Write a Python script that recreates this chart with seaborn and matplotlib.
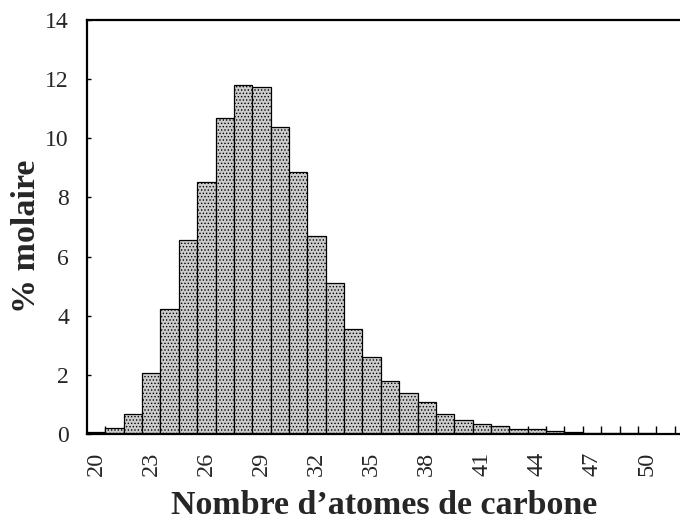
import matplotlib
matplotlib.use("Agg")
import matplotlib.pyplot as plt
from matplotlib.ticker import FixedLocator
import seaborn as sns
import pandas as pd

# Carbon number distribution (mol %)
carbon_numbers = list(range(20, 53))
mol_percent = [0.07, 0.20, 0.68, 2.07, 4.22, 6.56, 8.52, 10.69, 11.80, 11.73,
               10.39, 8.85, 6.70, 5.10, 3.55, 2.60, 1.80, 1.40, 1.07, 0.68,
               0.47, 0.33, 0.26, 0.16, 0.17, 0.09, 0.08, 0.04, 0.03, 0.02,
               0.02, 0.01, 0.01]
x_tick_labels = [20, 23, 26, 29, 32, 35, 38, 41, 44, 47, 50]
y_ticks = [0, 2, 4, 6, 8, 10, 12, 14]

df = pd.DataFrame({"carbone": carbon_numbers, "molaire": mol_percent})

sns.set_style("white")
plt.rcParams["font.family"] = ["Liberation Serif", "DejaVu Serif"]
plt.rcParams["hatch.color"] = "#6e6e6e"
plt.rcParams["hatch.linewidth"] = 0.6

fig = plt.figure(figsize=(6.8, 5.22), dpi=100)
# axes box runs slightly past the right edge of the figure
ax = fig.add_axes([87 / 680, (522 - 434) / 522, 606 / 680, 414 / 522])

sns.barplot(data=df, x="carbone", y="molaire", native_scale=True, width=1.0,
            color="#cccccc", edgecolor="black", linewidth=0.9,
            saturation=1, ax=ax, zorder=3)
for p in ax.patches:
    p.set_hatch(".....")

ax.set_xlim(19.5, 52.5)
ax.set_ylim(0, 14)

for side in ["left", "top", "bottom", "right"]:
    ax.spines[side].set_visible(True)
    ax.spines[side].set_color("black")
    ax.spines[side].set_linewidth(1.6)
    ax.spines[side].set_zorder(5)

ax.xaxis.set_major_locator(FixedLocator(x_tick_labels))
ax.set_xticklabels([str(v) for v in x_tick_labels], rotation=90)
ax.xaxis.set_minor_locator(FixedLocator([c + 0.5 for c in carbon_numbers[:-1]]))
ax.tick_params(axis="x", which="major", length=0, pad=13, labelsize=17.5)
ax.tick_params(axis="x", which="minor", direction="in", length=6, width=1,
               color="black", bottom=True)

ax.set_yticks(y_ticks)
ax.set_yticklabels([str(v) for v in y_ticks])
ax.tick_params(axis="y", which="major", direction="in", length=3, width=1,
               color="black", pad=13, labelsize=17, left=True)

ax.set_xlabel("")
ax.set_ylabel("")
fig.text(384 / 680, 1 - 514 / 522, "Nombre d\u2019atomes de carbone",
         ha="center", va="baseline", fontsize=24.5, fontweight="bold")
fig.text(27 / 680, 1 - 236 / 522, "% molaire", ha="center", va="center",
         rotation=90, fontsize=24.5, fontweight="bold")

fig.savefig("out.png", dpi=100)
